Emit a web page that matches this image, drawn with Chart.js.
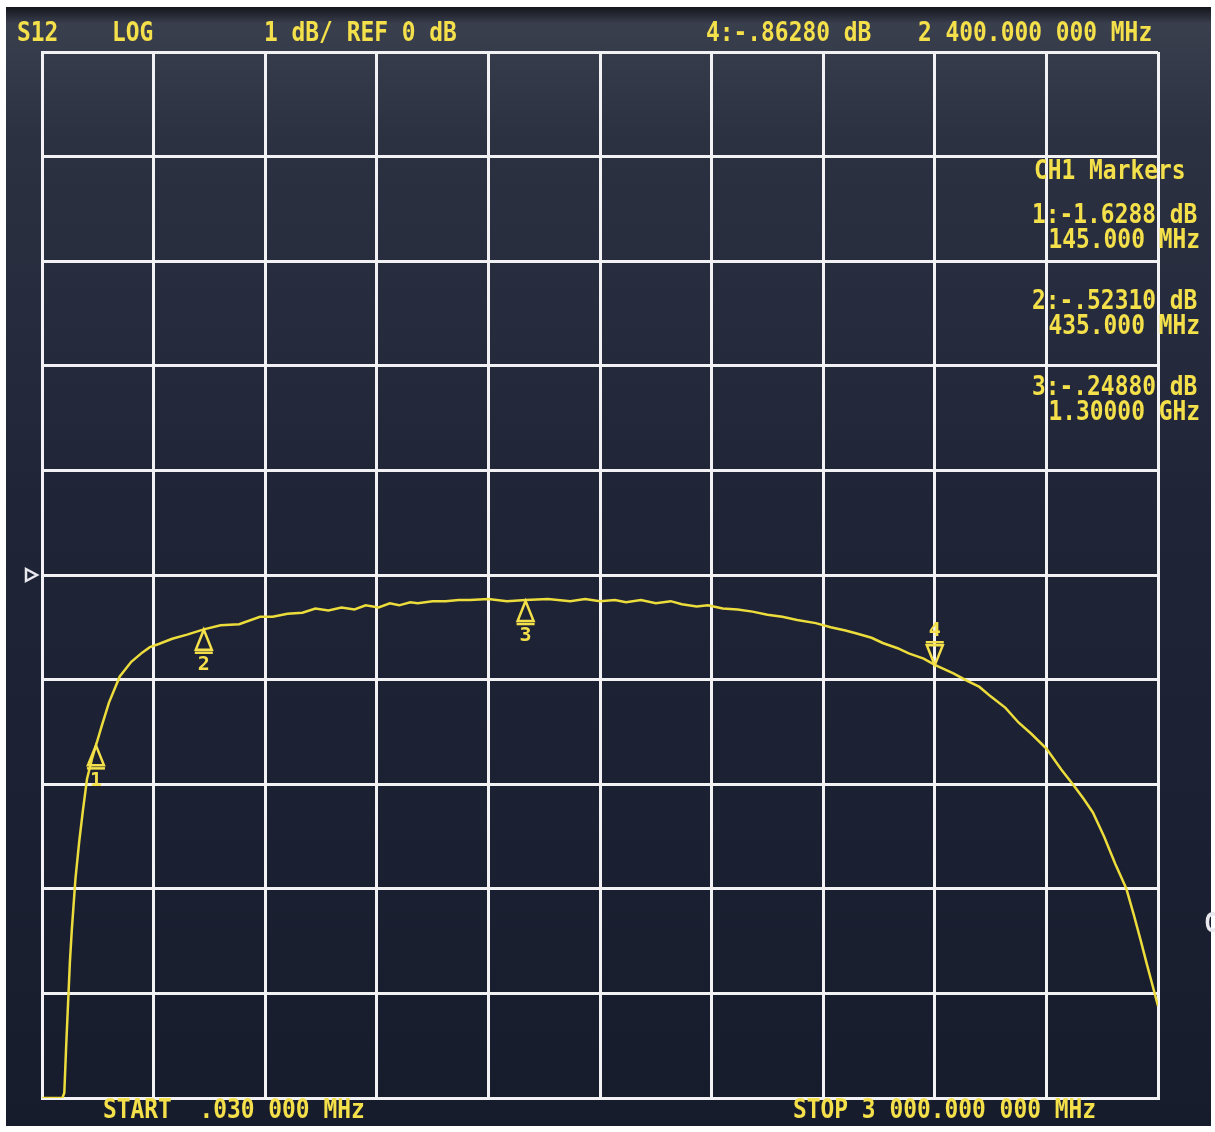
<!DOCTYPE html>
<html>
<head>
<meta charset="utf-8">
<script src="https://cdn.jsdelivr.net/npm/chart.js@4/dist/chart.umd.min.js"></script>
<style>
  html, body { margin: 0; padding: 0; background: #ffffff; }
  #wrap { width: 1215px; height: 1132px; position: relative; }
</style>
</head>
<body>
<div id="wrap"><canvas id="s12Chart" width="1215" height="1132"></canvas></div>
<script>
// trace (MHz, dB)
const freqMHz = [
  0.03, 20, 40, 55, 60, 65, 70, 75, 80, 90, 100, 110, 121, 135, 145, 160, 180,
  209, 240, 270, 290, 314, 350, 390, 435, 480, 530, 586, 620, 660, 700, 735,
  770, 805, 840, 870, 905, 935, 960, 990, 1010, 1050, 1085, 1120, 1150, 1200,
  1250, 1300, 1360, 1420, 1460, 1500, 1540, 1570, 1610, 1650, 1690, 1720, 1760,
  1790, 1830, 1870, 1910, 1950, 1990, 2030, 2080, 2120, 2160, 2190, 2230, 2260,
  2300, 2330, 2370, 2400, 2450, 2486, 2520, 2550, 2590, 2625, 2660, 2700, 2740,
  2771, 2800, 2825, 2855, 2885, 2915, 2935, 2954, 2970, 2985, 3000,
];
const s12dB = [
  -5.0, -5.0, -5.0, -5.0, -4.95, -4.5, -4.1, -3.7, -3.4, -2.9, -2.55, -2.25,
  -1.95, -1.75, -1.63, -1.45, -1.22, -0.97, -0.83, -0.74, -0.69, -0.66, -0.61,
  -0.57, -0.52, -0.48, -0.47, -0.40, -0.40, -0.37, -0.36, -0.32, -0.34, -0.31,
  -0.33, -0.29, -0.31, -0.27, -0.29, -0.26, -0.27, -0.25, -0.25, -0.24, -0.24,
  -0.23, -0.25, -0.24, -0.23, -0.25, -0.23, -0.25, -0.24, -0.26, -0.24, -0.27,
  -0.25, -0.28, -0.30, -0.29, -0.32, -0.33, -0.35, -0.38, -0.40, -0.43, -0.46,
  -0.50, -0.53, -0.56, -0.60, -0.65, -0.70, -0.75, -0.80, -0.86, -0.94, -1.01,
  -1.07, -1.16, -1.27, -1.41, -1.52, -1.66, -1.86, -2.00, -2.14, -2.27, -2.50,
  -2.76, -3.00, -3.25, -3.50, -3.72, -3.92, -4.12,
];

// marker readouts
const markerNums = ["1", "2", "3", "4"];
const markerFreq = [145, 435, 1300, 2400];
const markerDb = [-1.6288, -0.5231, -0.2488, -0.8628];
const markerDbText = ["-1.6288", "-.52310", "-.24880", "-.86280"];
const markerFreqText = ["145.000 MHz", "435.000 MHz", "1.30000 GHz"];

const yellow = "#f4e04a";
const traceColor = "#ecdc3c";
const monoFont = "bold 26px 'DejaVu Sans Mono', 'Liberation Mono', monospace";

// narrow, tall instrument-style text
function screenText(ctx, text, x, y, align) {
  ctx.save();
  ctx.translate(x, y);
  ctx.scale(0.88, 1);
  ctx.textAlign = align || "left";
  ctx.fillText(text, 0, 0);
  ctx.restore();
}

const screenPlugin = {
  id: "screen",
  beforeDraw(chart) {
    const ctx = chart.ctx;
    ctx.save();
    ctx.fillStyle = "#ffffff";
    ctx.fillRect(0, 0, chart.width, chart.height);
    const g = ctx.createLinearGradient(0, 7, 0, 1126);
    g.addColorStop(0, "#14161d");
    g.addColorStop(0.015, "#3a3f4e");
    g.addColorStop(0.12, "#2c3142");
    g.addColorStop(0.45, "#1f2537");
    g.addColorStop(1, "#171c2d");
    ctx.fillStyle = g;
    ctx.fillRect(6, 7, 1205, 1119);
    ctx.restore();
  },
  afterDraw(chart) {
    const ctx = chart.ctx;
    const xs = chart.scales.x;
    const ys = chart.scales.y;
    ctx.save();
    ctx.fillStyle = yellow;
    ctx.font = monoFont;
    ctx.textBaseline = "middle";

    // header
    screenText(ctx, "S12", 17, 34);
    screenText(ctx, "LOG", 112, 34);
    screenText(ctx, "1 dB/ REF 0 dB", 264, 34);
    screenText(ctx, "4:" + markerDbText[3] + " dB", 706, 34);
    screenText(ctx, "2 400.000 000 MHz", 918, 34);

    // marker table
    screenText(ctx, "CH1 Markers", 1034, 172);
    for (let i = 0; i < 3; i++) {
      const y0 = 216 + i * 86;
      screenText(ctx, markerNums[i] + ":" + markerDbText[i] + " dB", 1032, y0);
      screenText(ctx, markerFreqText[i], 1200, y0 + 25, "right");
    }

    // footer
    screenText(ctx, "START  .030 000 MHz", 103, 1111);
    screenText(ctx, "STOP 3 000.000 000 MHz", 793, 1111);
    ctx.fillStyle = "#e8e8ee";
    screenText(ctx, "C", 1204, 925);

    // reference position arrow
    const yRef = ys.getPixelForValue(0);
    ctx.strokeStyle = "#e8e8ee";
    ctx.lineWidth = 2.5;
    ctx.beginPath();
    ctx.moveTo(26, yRef - 6);
    ctx.lineTo(37, yRef);
    ctx.lineTo(26, yRef + 6);
    ctx.closePath();
    ctx.stroke();

    // marker triangles
    ctx.strokeStyle = yellow;
    ctx.fillStyle = yellow;
    ctx.lineWidth = 2.5;
    ctx.font = "bold 20px 'DejaVu Sans Mono', monospace";
    ctx.textAlign = "center";
    for (let i = 0; i < markerFreq.length; i++) {
      const px = xs.getPixelForValue(markerFreq[i]);
      const py = ys.getPixelForValue(markerDb[i]);
      ctx.beginPath();
      if (i < 3) {
        ctx.moveTo(px, py);
        ctx.lineTo(px - 8, py + 20);
        ctx.lineTo(px + 8, py + 20);
        ctx.closePath();
        ctx.stroke();
        ctx.beginPath();
        ctx.moveTo(px - 9, py + 23);
        ctx.lineTo(px + 9, py + 23);
        ctx.stroke();
        ctx.fillText(markerNums[i], px, py + 35);
      } else {
        ctx.moveTo(px, py);
        ctx.lineTo(px - 8, py - 20);
        ctx.lineTo(px + 8, py - 20);
        ctx.closePath();
        ctx.stroke();
        ctx.beginPath();
        ctx.moveTo(px - 9, py - 23);
        ctx.lineTo(px + 9, py - 23);
        ctx.stroke();
        ctx.fillText(markerNums[i], px, py - 34);
      }
    }
    ctx.restore();
  },
};

const ctx = document.getElementById("s12Chart");

new Chart(ctx, {
  type: "line",

  data: {
    datasets: [
      {
        label: "S12",
        data: freqMHz.map((f, i) => ({ x: f, y: s12dB[i] })),
        borderColor: traceColor,
        borderWidth: 2.5,
        pointRadius: 0,
        tension: 0,
        fill: false,
      },
    ],
  },

  options: {
    responsive: false,
    animation: false,
    layout: {
      padding: { left: 42, right: 57, top: 52, bottom: 34 },
    },
    plugins: {
      legend: { display: false },
      tooltip: { enabled: false },
    },
    scales: {
      x: {
        type: "linear",
        min: 0,
        max: 3000,
        ticks: { display: false, stepSize: 300 },
        grid: { color: "#f2f2f4", lineWidth: 3, drawTicks: false },
        border: { color: "#f2f2f4", width: 3 },
      },
      y: {
        min: -5,
        max: 5,
        ticks: { display: false, stepSize: 1 },
        grid: { color: "#f2f2f4", lineWidth: 3, drawTicks: false },
        border: { color: "#f2f2f4", width: 3 },
      },
    },
  },

  plugins: [screenPlugin],
});
</script>
</body>
</html>
